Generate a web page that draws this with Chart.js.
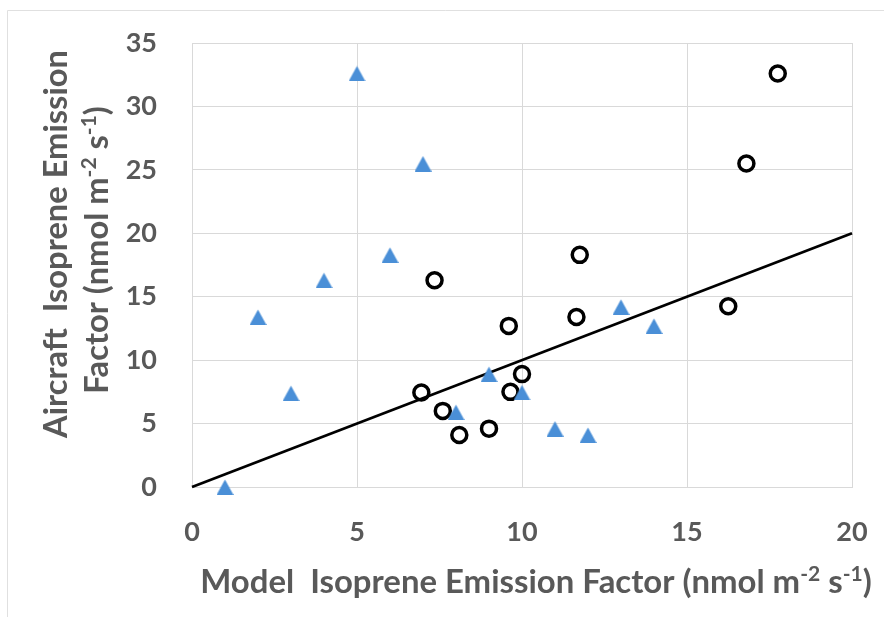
<!DOCTYPE html>
<html><head><meta charset="utf-8">
<script src="https://cdn.jsdelivr.net/npm/chart.js@4"></script>
<style>html,body{margin:0;padding:0;background:#fff;overflow:hidden}canvas{display:block}</style>
</head><body>
<canvas id="c" width="884" height="617"></canvas>
<script>
// ---- data ----
const triX = [1, 2, 3, 4, 5, 6, 7, 8, 9, 10, 11, 12, 13, 14];
const triY = [0, 13.4, 7.4, 16.3, 32.6, 18.3, 25.5, 5.9, 8.9, 7.45, 4.6, 4.1, 14.2, 12.7];
const circX = [7.35, 9.6, 10, 6.95, 9.65, 7.6, 8.1, 9, 11.75, 16.25, 11.65, 17.75, 16.8];
const circY = [16.3, 12.7, 8.9, 7.45, 7.5, 6.0, 4.1, 4.6, 18.3, 14.25, 13.4, 32.6, 25.5];
const lineX = [0, 20];
const lineY = [0, 20];
const xTicks = [0, 5, 10, 15, 20];
const yTicks = [0, 5, 10, 15, 20, 25, 30, 35];
const xTitle = [["Model  Isoprene Emission Factor (nmol m", 0], ["-2", 1], [" s", 0], ["-1", 1], [")", 0]];
const yTitle1 = [["Aircraft  Isoprene Emission", 0]];
const yTitle2 = [["Factor (nmol m", 0], ["-2", 1], [" s", 0], ["-1", 1], [")", 0]];

const toPts = (xs, ys) => xs.map((x, i) => ({x: x, y: ys[i]}));

const TEXT = '#595959';
const GRID = '#d9d9d9';
const BLUE = '#4A8FD7';
const FONT = 'Lato, "Open Sans", sans-serif';
const AREA = { left: 192, right: 852, top: 43, bottom: 487 };

// triangle marker (bounding-box centred, like the original)
const tri = document.createElement('canvas');
tri.width = 17; tri.height = 16;
(function(){
  const g = tri.getContext('2d');
  g.fillStyle = BLUE;
  g.beginPath(); g.moveTo(0, 16); g.lineTo(8.5, 0.5); g.lineTo(17, 16); g.closePath(); g.fill();
})();

function partsWidth(ctx, parts, size, supSize) {
  let total = 0;
  parts.forEach(p => {
    ctx.font = 'bold ' + (p[1] ? supSize : size) + 'px ' + FONT;
    total += ctx.measureText(p[0]).width;
  });
  return total;
}
function fitSize(ctx, parts, target) {
  const w = partsWidth(ctx, parts, 100, 64);
  return 100 * target / w;
}
function drawParts(ctx, parts, size) {
  const supSize = size * 0.64, supRise = size * 0.36;
  const total = partsWidth(ctx, parts, size, supSize);
  let x = -total / 2;
  parts.forEach(p => {
    ctx.font = 'bold ' + (p[1] ? supSize : size) + 'px ' + FONT;
    ctx.fillText(p[0], x, p[1] ? -supRise : 0);
    x += ctx.measureText(p[0]).width;
  });
}

const decor = {
  id: 'decor',
  beforeDraw(chart) {
    const ctx = chart.ctx;
    ctx.save();
    ctx.fillStyle = '#fff';
    ctx.fillRect(0, 0, chart.width, chart.height);
    ctx.strokeStyle = '#e0e0e0';
    ctx.lineWidth = 1;
    ctx.beginPath();
    ctx.moveTo(7.5, 617); ctx.lineTo(7.5, 10.5); ctx.lineTo(884, 10.5);
    ctx.stroke();
    ctx.restore();
  },
  afterDraw(chart) {
    const ctx = chart.ctx;
    ctx.save();
    ctx.fillStyle = TEXT;
    ctx.textBaseline = 'alphabetic';
    ctx.textAlign = 'left';
    // x title
    const xs = fitSize(ctx, xTitle, 672);
    ctx.save();
    ctx.translate(536, 593);
    drawParts(ctx, xTitle, xs);
    ctx.restore();
    // y title (two lines)
    const ys = fitSize(ctx, yTitle1, 388);
    ctx.save();
    ctx.translate(67, 244);
    ctx.rotate(-Math.PI / 2);
    drawParts(ctx, yTitle1, ys);
    ctx.restore();
    ctx.save();
    ctx.translate(108, 250);
    ctx.rotate(-Math.PI / 2);
    drawParts(ctx, yTitle2, ys);
    ctx.restore();
    ctx.restore();
  }
};

const chart = new Chart(document.getElementById('c'), {
  type: 'scatter',
  data: {
    datasets: [
      { label: 'Triangles', data: toPts(triX, triY), pointStyle: tri, pointRadius: 8,
        backgroundColor: BLUE, borderColor: BLUE, order: 1, clip: false },
      { label: 'Circles', data: toPts(circX, circY), pointStyle: 'circle', pointRadius: 7.5,
        borderWidth: 3.5, borderColor: '#000', backgroundColor: 'rgba(255,255,255,0)', order: 2, clip: false },
      { label: '1:1', type: 'line', data: toPts(lineX, lineY), showLine: true, pointRadius: 0,
        borderColor: '#000', borderWidth: 2.7, fill: false, order: 3, clip: false }
    ]
  },
  options: {
    responsive: false,
    animation: false,
    events: [],
    layout: { padding: { left: 0, top: 43, right: 32, bottom: 0 } },
    plugins: { legend: { display: false }, tooltip: { enabled: false } },
    scales: {
      x: {
        type: 'linear', min: 0, max: 20,
        afterBuildTicks: s => { s.ticks = xTicks.map(v => ({value: v})); },
        afterFit: s => { s.height = 617 - AREA.bottom; },
        grid: { color: GRID, lineWidth: 1, drawTicks: true, tickLength: 26, tickColor: 'rgba(0,0,0,0)' },
        border: { color: GRID, width: 1 },
        ticks: { padding: 3, color: TEXT, font: { family: FONT, size: 27, weight: 'bold' } }
      },
      y: {
        type: 'linear', min: 0, max: 35,
        afterBuildTicks: s => { s.ticks = yTicks.map(v => ({value: v})); },
        afterFit: s => { s.width = AREA.left; },
        grid: { color: GRID, lineWidth: 1, drawTicks: true, tickLength: 32, tickColor: 'rgba(0,0,0,0)' },
        border: { color: GRID, width: 1 },
        ticks: { padding: 3, color: TEXT, font: { family: FONT, size: 27, weight: 'bold' } }
      }
    }
  },
  plugins: [decor]
});

// nudge the layout padding so the plot area lands where the original's does
for (let i = 0; i < 4; i++) {
  const a = chart.chartArea;
  const p = chart.options.layout.padding;
  const dt = AREA.top - a.top, dr = a.right - AREA.right;
  if (Math.abs(dt) < 0.5 && Math.abs(dr) < 0.5) break;
  p.top = Math.max(0, p.top + dt);
  p.right = Math.max(0, p.right + dr);
  chart.update();
}
</script>
</body></html>
